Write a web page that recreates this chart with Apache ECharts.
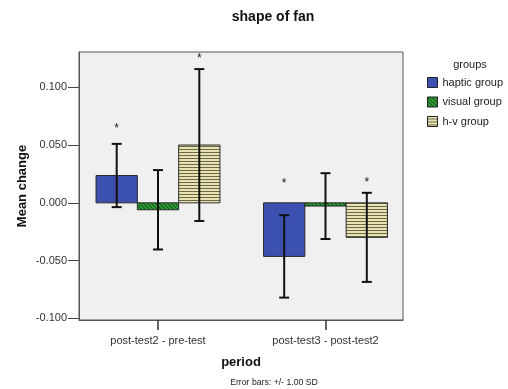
<!DOCTYPE html>
<html>
<head>
<meta charset="utf-8">
<script src="https://cdn.jsdelivr.net/npm/echarts@6/dist/echarts.min.js"></script>
<style>
  html, body { margin: 0; padding: 0; background: #ffffff; }
  #chart { width: 508px; height: 389px; }
</style>
</head>
<body>
<div id="chart"></div>
<script>
// Periods on the x axis
const periods = ['post-test2 - pre-test', 'post-test3 - post-test2'];
// Group names
const groups = ['haptic group', 'visual group', 'h-v group'];
// Mean change per period for each group
const hapticMean = [0.0237, -0.0464];
const visualMean = [-0.0060, -0.0028];
const hvMean = [0.0501, -0.0299];
// Standard deviation per period for each group (error bars +/- 1 SD)
const hapticSD = [0.0274, 0.0357];
const visualSD = [0.0344, 0.0285];
const hvSD = [0.0658, 0.0386];
// Significance marker heights (null = no marker)
const hapticStar = [0.0672, 0.0188];
const visualStar = [null, null];
const hvStar = [0.1275, 0.0203];
// Y axis tick values
const yTicks = [-0.1, -0.05, 0, 0.05, 0.1];

function makePattern(kind) {
  const c = document.createElement('canvas');
  const ctx = c.getContext('2d');
  if (kind === 'diag') {
    c.width = 4; c.height = 4;
    ctx.fillStyle = '#34a93c';
    ctx.fillRect(0, 0, 4, 4);
    ctx.strokeStyle = '#145c1a';
    ctx.lineWidth = 1.3;
    ctx.beginPath();
    ctx.moveTo(-1, -1); ctx.lineTo(5, 5);
    ctx.moveTo(-1, 3); ctx.lineTo(1, 5);
    ctx.moveTo(3, -1); ctx.lineTo(5, 1);
    ctx.stroke();
  } else {
    c.width = 4; c.height = 3;
    ctx.fillStyle = '#e9e3b3';
    ctx.fillRect(0, 0, 4, 3);
    ctx.fillStyle = '#6b6749';
    ctx.fillRect(0, 2, 4, 1);
  }
  return { image: c, repeat: 'repeat' };
}

const fills = ['#3c50b0', makePattern('diag'), makePattern('horiz')];
const means = [hapticMean, visualMean, hvMean];
const sds = [hapticSD, visualSD, hvSD];
const stars = [hapticStar, visualStar, hvStar];

const barW = 0.2466;       // width of one bar in category units
const offsets = [-barW, 0, barW];

function makeSeries(gi) {
  const data = periods.map((p, i) => [i, means[gi][i], sds[gi][i], stars[gi][i]]);
  return {
    name: groups[gi],
    type: 'custom',
    itemStyle: { color: fills[gi], borderColor: '#222', borderWidth: 1 },
    data: data,
    encode: { x: 0, y: 1 },
    renderItem: function (params, api) {
      const cat = api.value(0);
      const mean = api.value(1);
      const sd = api.value(2);
      const star = data[params.dataIndex][3];
      const cx = cat + offsets[gi];
      const pL = api.coord([cx - barW / 2, mean]);
      const pR = api.coord([cx + barW / 2, 0]);
      const pHi = api.coord([cx, mean + sd]);
      const pLo = api.coord([cx, mean - sd]);
      const capHalf = 5;
      const kids = [
        {
          type: 'rect',
          shape: {
            x: pL[0], y: Math.min(pL[1], pR[1]),
            width: pR[0] - pL[0], height: Math.abs(pR[1] - pL[1])
          },
          style: { fill: fills[gi], stroke: '#2a2a2a', lineWidth: 1 }
        },
        {
          type: 'line',
          shape: { x1: pHi[0], y1: pHi[1], x2: pLo[0], y2: pLo[1] },
          style: { stroke: '#111', lineWidth: 2 }
        },
        {
          type: 'line',
          shape: { x1: pHi[0] - capHalf, y1: pHi[1], x2: pHi[0] + capHalf, y2: pHi[1] },
          style: { stroke: '#111', lineWidth: 2 }
        },
        {
          type: 'line',
          shape: { x1: pLo[0] - capHalf, y1: pLo[1], x2: pLo[0] + capHalf, y2: pLo[1] },
          style: { stroke: '#111', lineWidth: 2 }
        }
      ];
      if (star !== null && star !== undefined) {
        const ps = api.coord([cx, star]);
        kids.push({
          type: 'text',
          x: ps[0], y: ps[1] + 3,
          style: {
            text: '*', fill: '#222', fontSize: 12,
            fontFamily: 'Liberation Sans, Arial, sans-serif',
            align: 'center', verticalAlign: 'middle'
          }
        });
      }
      return { type: 'group', children: kids };
    }
  };
}

const chart = echarts.init(document.getElementById('chart'), null, { renderer: 'canvas' });
const font = 'Liberation Sans, Arial, sans-serif';

chart.setOption({
  backgroundColor: '#ffffff',
  animation: false,
  textStyle: { fontFamily: font },
  title: [
    {
      text: 'shape of fan', left: 268, top: 5, textAlign: 'center',
      textStyle: { fontSize: 14, fontWeight: 'bold', color: '#111', fontFamily: font }
    },
    {
      text: 'groups', left: 465, top: 54, textAlign: 'center',
      textStyle: { fontSize: 11, fontWeight: 'normal', color: '#222', fontFamily: font }
    },
    {
      text: 'Error bars: +/- 1.00 SD', left: 269, top: 373, textAlign: 'center',
      textStyle: { fontSize: 8.7, fontWeight: 'normal', color: '#222', fontFamily: font }
    }
  ],
  legend: {
    orient: 'vertical',
    left: 422, top: 72,
    itemWidth: 10, itemHeight: 10, itemGap: 8.5,
    icon: 'rect',
    textStyle: { fontSize: 11, color: '#1a1a1a', fontFamily: font },
    itemStyle: { borderColor: '#222', borderWidth: 1 },
    data: groups
  },
  grid: {
    left: 79, right: 105, top: 52, bottom: 69,
    show: true, backgroundColor: '#f0f0f0', borderColor: '#555', borderWidth: 1
  },
  xAxis: {
    type: 'value',
    min: -0.4716, max: 1.4627,
    name: 'period', nameLocation: 'middle', nameGap: 36, nameMoveOverlap: false,
    nameTextStyle: { fontSize: 13, fontWeight: 'bold', color: '#111', fontFamily: font },
    splitLine: { show: false },
    axisLine: { show: true, onZero: false, lineStyle: { color: '#555' } },
    axisTick: { show: true, length: 10, customValues: [0, 1], lineStyle: { color: '#333', width: 1.5 } },
    axisLabel: {
      customValues: [0, 1], margin: 15,
      fontSize: 11, color: '#333', fontFamily: font,
      formatter: v => periods[Math.round(v)]
    }
  },
  yAxis: {
    type: 'value',
    min: -0.1015, max: 0.1307,
    name: 'Mean change', nameLocation: 'middle', nameGap: 50, nameMoveOverlap: false,
    nameTextStyle: { fontSize: 13, fontWeight: 'bold', color: '#111', fontFamily: font },
    splitLine: { show: false },
    axisLine: { show: true, onZero: false, lineStyle: { color: '#555' } },
    axisTick: { show: true, length: 11, customValues: yTicks, lineStyle: { color: '#444' } },
    axisLabel: {
      customValues: yTicks, margin: 12,
      fontSize: 11, color: '#333', fontFamily: font,
      formatter: v => v.toFixed(3)
    }
  },
  series: [makeSeries(0), makeSeries(1), makeSeries(2)]
});
</script>
</body>
</html>
